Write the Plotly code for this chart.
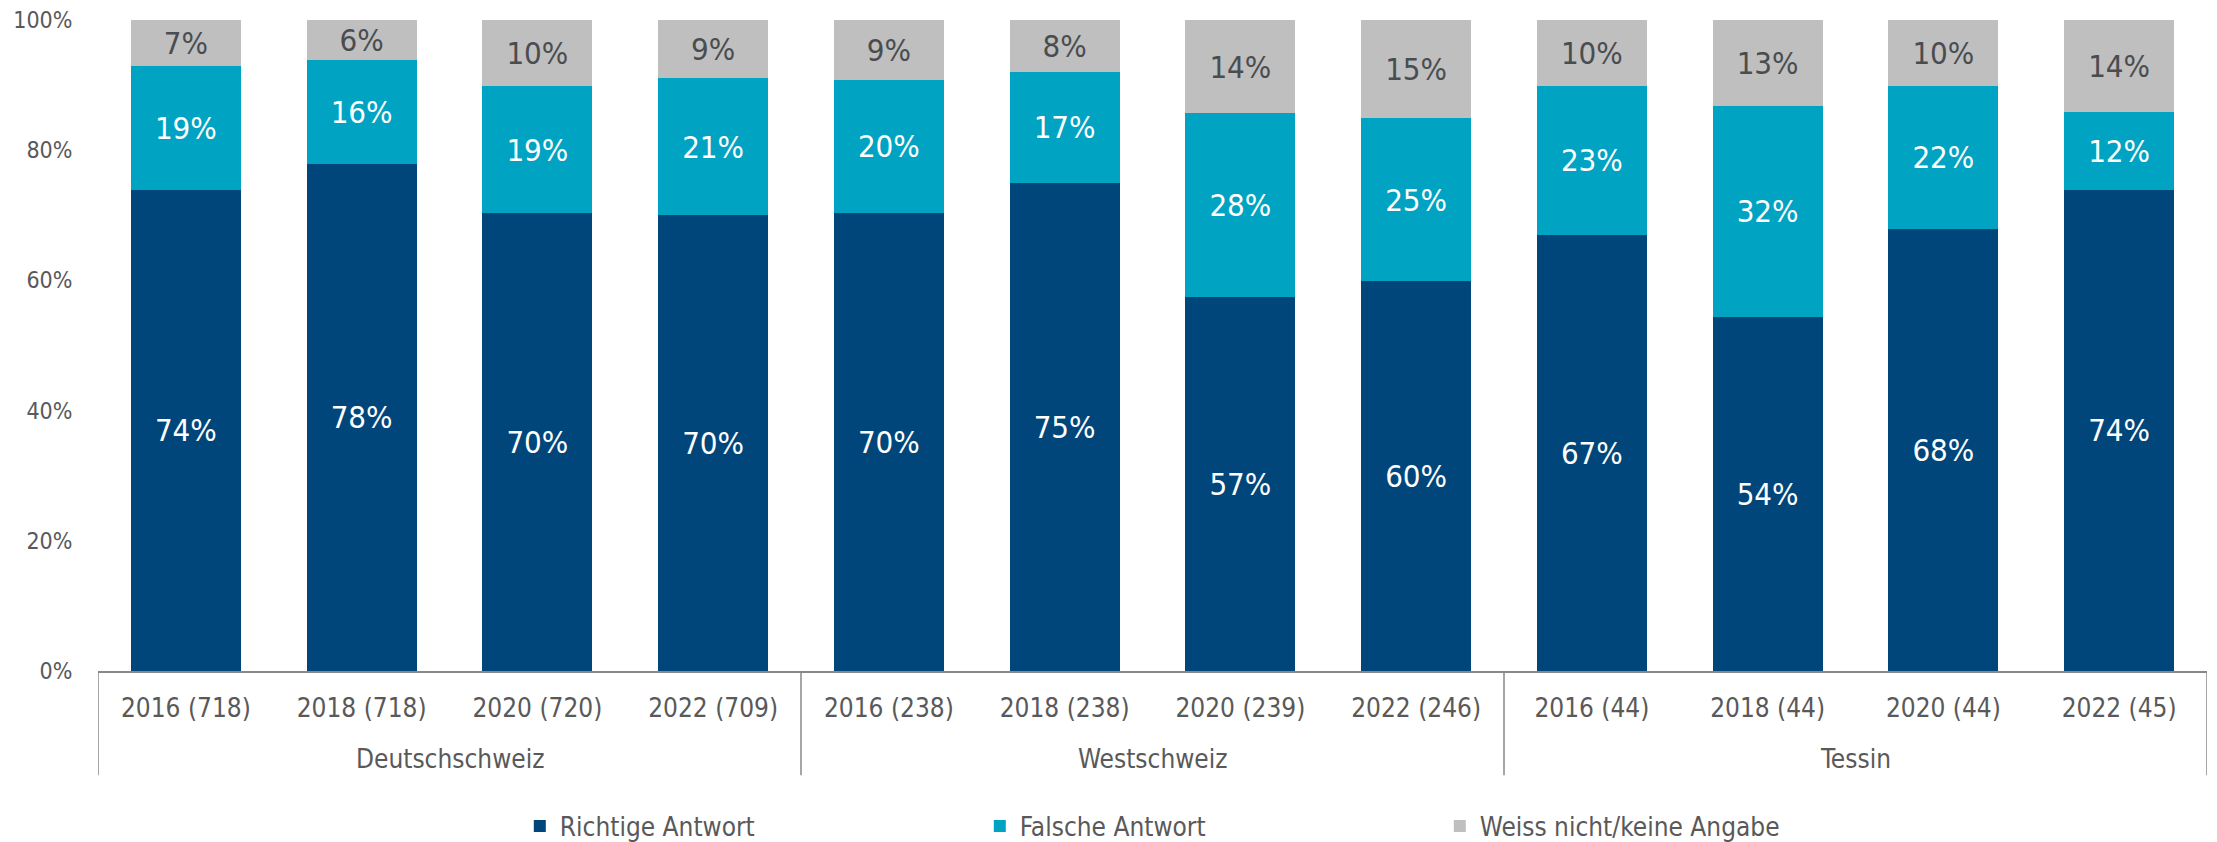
import plotly.graph_objects as go

regions = ["Deutschschweiz"] * 4 + ["Westschweiz"] * 4 + ["Tessin"] * 4
years = ["2016 (718)", "2018 (718)", "2020 (720)", "2022 (709)",
         "2016 (238)", "2018 (238)", "2020 (239)", "2022 (246)",
         "2016 (44)", "2018 (44)", "2020 (44)", "2022 (45)"]

richtige = [73.9, 77.9, 70.4, 70.0, 70.4, 75.0, 57.4, 59.9, 67.0, 54.4, 67.9, 73.9]
falsche = [19.0, 16.0, 19.4, 21.1, 20.4, 17.0, 28.3, 25.0, 22.9, 32.4, 22.0, 12.0]
weiss = [7.1, 6.1, 10.2, 8.9, 9.2, 8.0, 14.3, 15.1, 10.1, 13.2, 10.1, 14.1]

y_ticks = [0, 20, 40, 60, 80, 100]
y_ticktext = ["0%", "20%", "40%", "60%", "80%", "100%"]

series = [
    ("Richtige Antwort", richtige, "#00467A", "#FFFFFF"),
    ("Falsche Antwort", falsche, "#00A3C2", "#FFFFFF"),
    ("Weiss nicht/keine Angabe", weiss, "#BFBFBF", "#4A4D50"),
]

FONT = "DejaVu Sans Condensed, DejaVu Sans, sans-serif"
AXIS_GRAY = "#898989"

fig = go.Figure()
for name, vals, color, tcolor in series:
    fig.add_trace(go.Bar(
        name=name,
        x=years,
        y=vals,
        marker=dict(color=color, line=dict(width=0)),
        texttemplate="%{y:.0f}%",
        textposition="inside",
        insidetextanchor="middle",
        textangle=0,
        constraintext="none",
        textfont=dict(family=FONT, size=31, color=tcolor),
        hoverinfo="skip",
    ))

# group dividers and group labels (category index coordinates)
group_names = []
for r in regions:
    if r not in group_names:
        group_names.append(r)
bounds = [-0.5]
for g in group_names:
    idx = [i for i, r in enumerate(regions) if r == g]
    bounds.append(max(idx) + 0.5)
    fig.add_annotation(
        x=(min(idx) + max(idx)) / 2, xref="x",
        y=-0.135, yref="paper", yanchor="middle",
        text=g, showarrow=False,
        font=dict(family=FONT, size=26, color="#595959"),
    )
for b in bounds:
    fig.add_shape(
        type="line", xref="x", yref="paper",
        x0=b, x1=b, y0=0, y1=-0.16,
        line=dict(color=AXIS_GRAY, width=1.5),
    )

# the page shows the figure with an 8px offset, so the figure is 8px smaller
fig.update_layout(
    barmode="stack",
    bargap=0.375,
    width=2209,
    height=834,
    margin=dict(l=90, r=10, t=12, b=171, autoexpand=False),
    paper_bgcolor="white",
    plot_bgcolor="white",
    font=dict(family=FONT, color="#595959"),
    showlegend=True,
    legend=dict(
        orientation="h",
        x=0.2, xanchor="left", xref="paper",
        y=-0.2383, yanchor="middle", yref="paper",
        font=dict(family=FONT, size=26, color="#595959"),
        entrywidth=415,
        traceorder="normal",
        itemwidth=30,
    ),
    xaxis=dict(
        type="category",
        range=[-0.5, 11.5],
        showline=True,
        linecolor=AXIS_GRAY,
        linewidth=1.5,
        tickfont=dict(family=FONT, size=26, color="#595959"),
        ticks="outside",
        ticklen=13,
        tickcolor="rgba(0,0,0,0)",
        showgrid=False,
        automargin=False,
    ),
    yaxis=dict(
        range=[0, 100],
        tickvals=y_ticks,
        ticktext=y_ticktext,
        showgrid=False,
        showline=False,
        zeroline=False,
        ticks="outside",
        ticklen=20,
        tickcolor="rgba(0,0,0,0)",
        tickfont=dict(family=FONT, size=23, color="#595959"),
        ticklabeloverflow="allow",
        automargin=False,
    ),
)

fig.write_html("out.html")
